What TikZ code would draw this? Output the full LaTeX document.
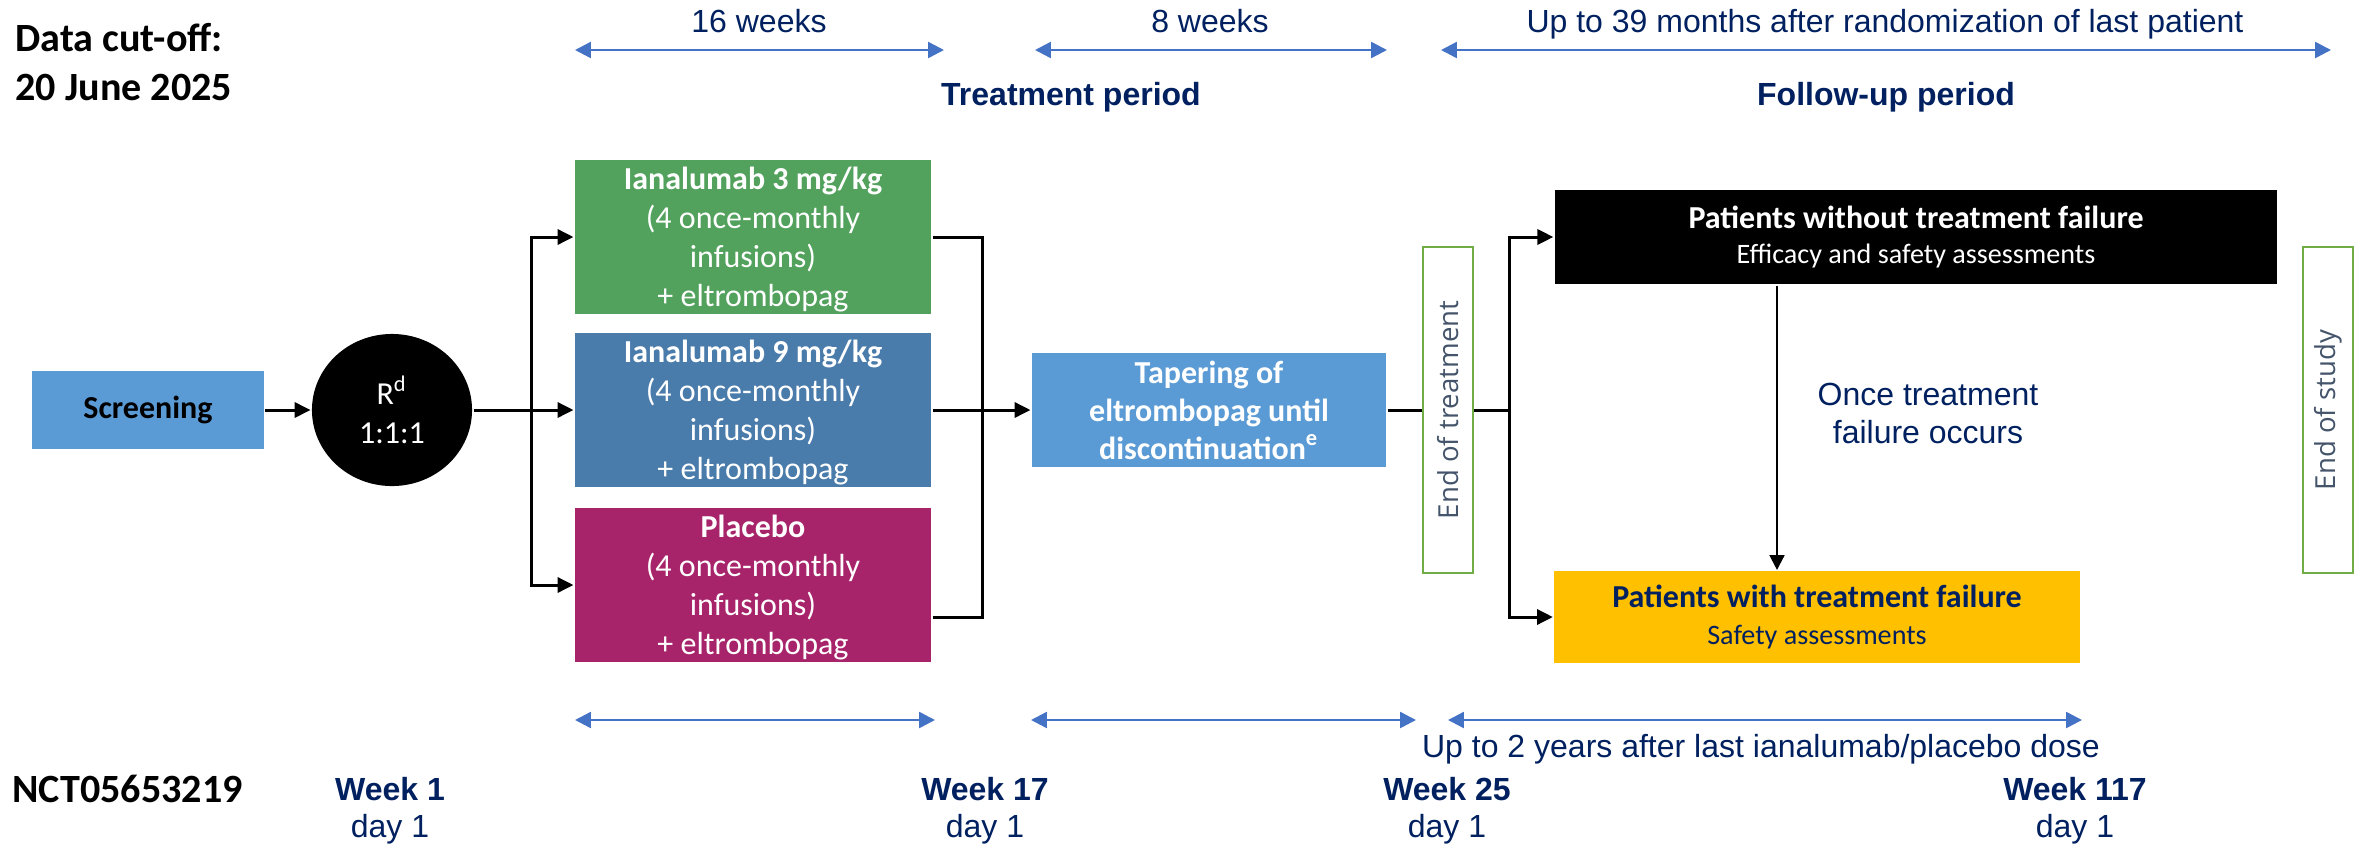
\documentclass[tikz,border=0pt]{standalone}
\usepackage{fontspec}
\setmainfont{Liberation Sans}
\newfontfamily\calibri{Carlito}
\newfontfamily\opensans{Open Sans}
\usetikzlibrary{arrows.meta,shapes.geometric}

\definecolor{navy}{RGB}{0,32,96}
\definecolor{scrblue}{RGB}{91,155,213}
\definecolor{armgreen}{RGB}{82,161,92}
\definecolor{armblue}{RGB}{73,123,171}
\definecolor{armpurple}{RGB}{167,36,107}
\definecolor{spanblue}{RGB}{68,114,196}
\definecolor{eotgreen}{RGB}{112,173,71}
\definecolor{slate}{RGB}{68,84,106}
\definecolor{amber}{RGB}{255,192,0}

\newcommand{\lastline}[1]{\raisebox{0pt}[\height][0pt]{#1}}

\begin{document}
\begin{tikzpicture}[
  x=0.01cm, y=-0.01cm,
  >={Triangle[length=4.5pt,width=4.3pt]}, line width=0.85pt,
  box/.style={rectangle, inner sep=0pt, align=center, font=\calibri\fontsize{9.1}{11.1}\selectfont},
  arm/.style={box, minimum width=3.56cm, minimum height=1.54cm, text=white},
  endbox/.style={rectangle, draw=eotgreen, line width=0.6pt, rotate=90, minimum width=3.26cm,
    minimum height=0.5cm, inner sep=0pt, text=slate, font=\opensans\fontsize{7.85}{9}\selectfont},
  lbl/.style={inner sep=0pt, anchor=base, text=navy, align=center, font=\fontsize{9.1}{10.5}\selectfont},
  span/.style={spanblue, line width=0.7pt, {Triangle[length=4.5pt,width=4.5pt]}-{Triangle[length=4.5pt,width=4.5pt]}},
  drop/.style={line width=0.6pt, -{Triangle[length=4.2pt,width=4.2pt]}}
]
  \useasboundingbox (0,0) rectangle (2369,845);

  % boxes
  \node[box, fill=scrblue, minimum width=2.31cm, minimum height=0.78cm,
    font=\calibri\bfseries\fontsize{9.1}{11.1}\selectfont] (scr) at (148,410) {Screening};
  \node[box, ellipse, fill=black, text=white, minimum width=1.6cm, minimum height=1.52cm] (rnd) at (392,410) {R\textsuperscript{d}\\1:1:1};
  \node[arm, fill=armgreen]  (g3)  at (753,237) {\textbf{Ianalumab 3 mg/kg}\\(4 once-monthly\\infusions)\\\lastline{+ eltrombopag}};
  \node[arm, fill=armblue]   (g9)  at (753,410) {\textbf{Ianalumab 9 mg/kg}\\(4 once-monthly\\infusions)\\\lastline{+ eltrombopag}};
  \node[arm, fill=armpurple] (plc) at (753,585) {\textbf{Placebo}\\(4 once-monthly\\infusions)\\\lastline{+ eltrombopag}};
  \node[box, fill=scrblue, text=white, minimum width=3.54cm, minimum height=1.14cm,
    font=\calibri\bfseries\fontsize{9.1}{10.8}\selectfont] (tap) at (1209,410) {Tapering of\\eltrombopag until\\discontinuation\textsuperscript{e}};
  \node[endbox] (eot) at (1448,410) {End of treatment};
  \node[box, fill=black, text=white, minimum width=7.22cm, minimum height=0.94cm,
    font=\calibri\fontsize{9.1}{10}\selectfont] (nofail) at (1916,237)
    {\textbf{Patients without treatment failure}\\{\fontsize{8}{10}\selectfont Efficacy and safety assessments}};
  \node[box, fill=amber, text=navy, minimum width=5.25cm, minimum height=0.91cm,
    font=\calibri\fontsize{9.1}{10.5}\selectfont] (fail) at (1817,617)
    {\textbf{Patients with treatment failure}\\{\fontsize{8}{10.5}\selectfont Safety assessments}};
  \node[endbox] (eos) at (2328,410) {End of study};

  % labels (base = last line)
  \node[lbl, anchor=base west, align=left, text=black,
    font=\calibri\bfseries\fontsize{11.4}{13.7}\selectfont] (cut) at (14,100) {Data cut-off:\\20 June 2025};
  \node[lbl, anchor=base west, text=black,
    font=\calibri\bfseries\fontsize{11.4}{13.7}\selectfont] (nct) at (11,802) {NCT05653219};
  \node[lbl] (l16) at (759,32)  {16 weeks};
  \node[lbl] (l8)  at (1210,32) {8 weeks};
  \node[lbl] (l39) at (1885,32) {Up to 39 months after randomization of last patient};
  \node[lbl, font=\bfseries\fontsize{9.1}{10.5}\selectfont] (tp) at (1071,105) {Treatment period};
  \node[lbl, font=\bfseries\fontsize{9.1}{10.5}\selectfont] (fp) at (1886,105) {Follow-up period};
  \node[lbl, font=\fontsize{9.1}{10.8}\selectfont] (once) at (1928,443) {Once treatment\\failure occurs};
  \node[lbl] (l2y) at (1761,757) {Up to 2 years after last ianalumab/placebo dose};
  \node[lbl] (w1)   at (390,837)  {\textbf{Week 1}\\day 1};
  \node[lbl] (w17)  at (985,837)  {\textbf{Week 17}\\day 1};
  \node[lbl] (w25)  at (1447,837) {\textbf{Week 25}\\day 1};
  \node[lbl] (w117) at (2075,837) {\textbf{Week 117}\\day 1};

  % spans
  \coordinate (t1a) at (575,50);  \coordinate (t1b) at (944,50);
  \coordinate (t2a) at (1035,50); \coordinate (t2b) at (1387,50);
  \coordinate (t3a) at (1441,50); \coordinate (t3b) at (2331,50);
  \coordinate (b1a) at (575,720);  \coordinate (b1b) at (935,720);
  \coordinate (b2a) at (1031,720); \coordinate (b2b) at (1416,720);
  \coordinate (b3a) at (1448,720); \coordinate (b3b) at (2082,720);
  \draw[span] (t1a) -- (t1b);
  \draw[span] (t2a) -- (t2b);
  \draw[span] (t3a) -- (t3b);
  \draw[span] (b1a) -- (b1b);
  \draw[span] (b2a) -- (b2b);
  \draw[span] (b3a) -- (b3b);

  % edges
  \coordinate (split) at (531,410);
  \coordinate (join)  at (982,410);
  \coordinate (fork)  at (1509,410);
  \coordinate (dropx) at (1777,0);
  \draw[->] (scr) -- (rnd);
  \draw (rnd) -- (split);
  \draw[->] (split) |- (g3);
  \draw[->] (split) -- (g9);
  \draw[->] (split) |- (plc);
  \draw (g3) -| (join);
  \draw (g9) -- (join);
  \draw (plc.east) ++(0,32) -| (join);
  \draw[->] (join) -- (tap);
  \draw (tap) -- (eot);
  \draw (eot) -- (fork);
  \draw[->] (fork) |- (nofail);
  \draw[->] (fork) |- (fail);
  \draw[drop] (nofail.south -| dropx) -- (fail.north -| dropx);
\end{tikzpicture}
\end{document}
